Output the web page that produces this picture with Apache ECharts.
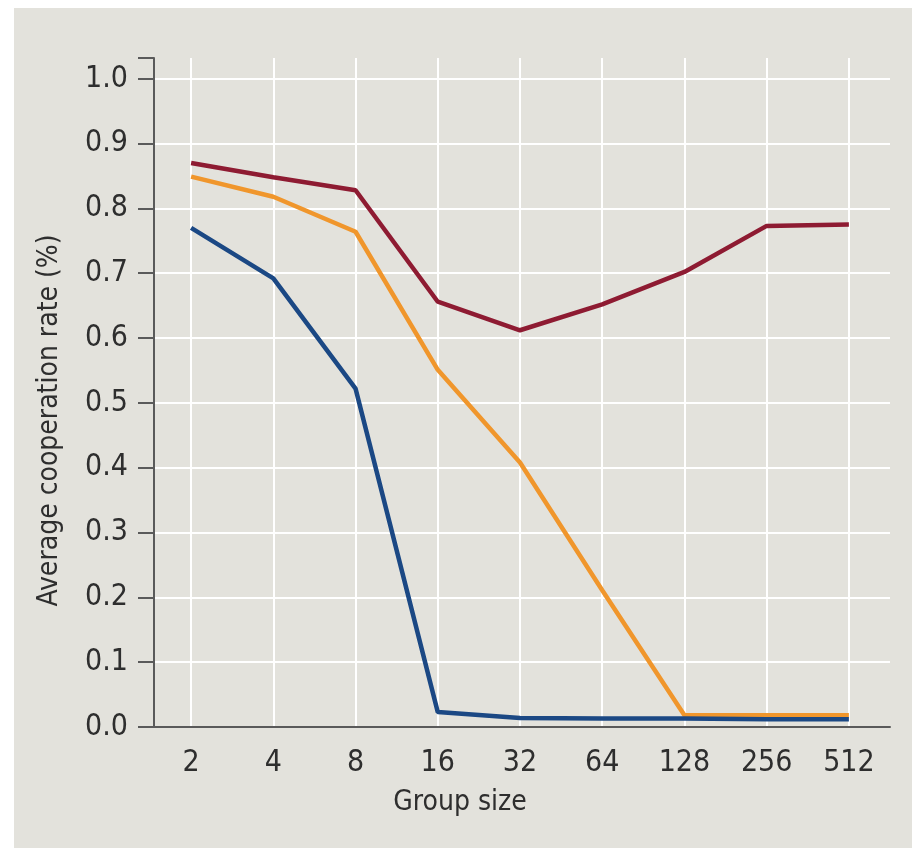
<!DOCTYPE html>
<html>
<head>
<meta charset="utf-8">
<script src="https://cdn.jsdelivr.net/npm/echarts@6/dist/echarts.min.js"></script>
<style>
  html, body { margin: 0; padding: 0; background: #ffffff; }
  #chart { position: absolute; left: 14px; top: 8px; width: 898px; height: 840px; background: #e3e2dc; }
</style>
</head>
<body>
<div id="chart"></div>
<script>
const categories = ['2', '4', '8', '16', '32', '64', '128', '256', '512'];
const redSeries    = [0.870, 0.848, 0.828, 0.656, 0.612, 0.652, 0.702, 0.773, 0.775];
const orangeSeries = [0.849, 0.818, 0.764, 0.551, 0.408, 0.211, 0.018, 0.018, 0.018];
const blueSeries   = [0.770, 0.692, 0.522, 0.023, 0.014, 0.013, 0.013, 0.012, 0.012];
const yTicks = [0, 0.1, 0.2, 0.3, 0.4, 0.5, 0.6, 0.7, 0.8, 0.9, 1.0];

const FONT = "'Liberation Sans Narrow', 'DejaVu Sans Condensed', 'Roboto Condensed', 'Liberation Sans', sans-serif";
const chart = echarts.init(document.getElementById('chart'), null, { renderer: 'canvas' });

const splitColors = yTicks.map(() => '#ffffff').concat(['rgba(0,0,0,0)']);

chart.setOption({
  backgroundColor: '#e3e2dc',
  animation: false,
  grid: { left: 136, right: 22, top: 50, bottom: 121, containLabel: false },
  xAxis: {
    type: 'category',
    data: categories,
    boundaryGap: true,
    name: 'Group size',
    nameLocation: 'middle',
    nameGap: 62,
    nameTextStyle: { fontFamily: FONT, fontSize: 28, color: '#2e2e2e', padding: [0, 120, 0, 0] },
    axisLine: { lineStyle: { color: '#5a5a5a', width: 2 } },
    axisTick: { alignWithLabel: true, length: 12, lineStyle: { color: '#5a5a5a', width: 2 } },
    axisLabel: { fontFamily: FONT, fontSize: 30, color: '#2e2e2e', margin: 21 },
    splitLine: { show: true, alignWithLabel: true, lineStyle: { color: '#ffffff', width: 2 } }
  },
  yAxis: {
    type: 'value',
    min: 0,
    max: 1.032,
    interval: 0.1,
    offset: -4,
    name: 'Average cooperation rate (%)',
    nameLocation: 'middle',
    nameRotate: 90,
    nameGap: 90,
    nameTextStyle: { fontFamily: FONT, fontSize: 28, color: '#2e2e2e', padding: [0, 56, 0, 0] },
    axisLine: { show: true, lineStyle: { color: '#5a5a5a', width: 2 } },
    axisTick: { show: true, length: 16, lineStyle: { color: '#5a5a5a', width: 2 } },
    axisLabel: {
      fontFamily: FONT, fontSize: 30, color: '#2e2e2e', margin: 26,
      formatter: function (v) {
        const r = Math.round(v * 10) / 10;
        return Math.abs(r - v) < 1e-6 ? r.toFixed(1) : '';
      }
    },
    splitLine: { show: true, lineStyle: { color: splitColors, width: 2 } }
  },
  series: [
    { name: 'red', type: 'line', data: redSeries, symbol: 'none', lineStyle: { color: '#8e1b32', width: 4.5 } },
    { name: 'orange', type: 'line', data: orangeSeries, symbol: 'none', lineStyle: { color: '#f0962c', width: 4.5 } },
    { name: 'blue', type: 'line', data: blueSeries, symbol: 'none', lineStyle: { color: '#1b4884', width: 4.5 } }
  ]
});
</script>
</body>
</html>
